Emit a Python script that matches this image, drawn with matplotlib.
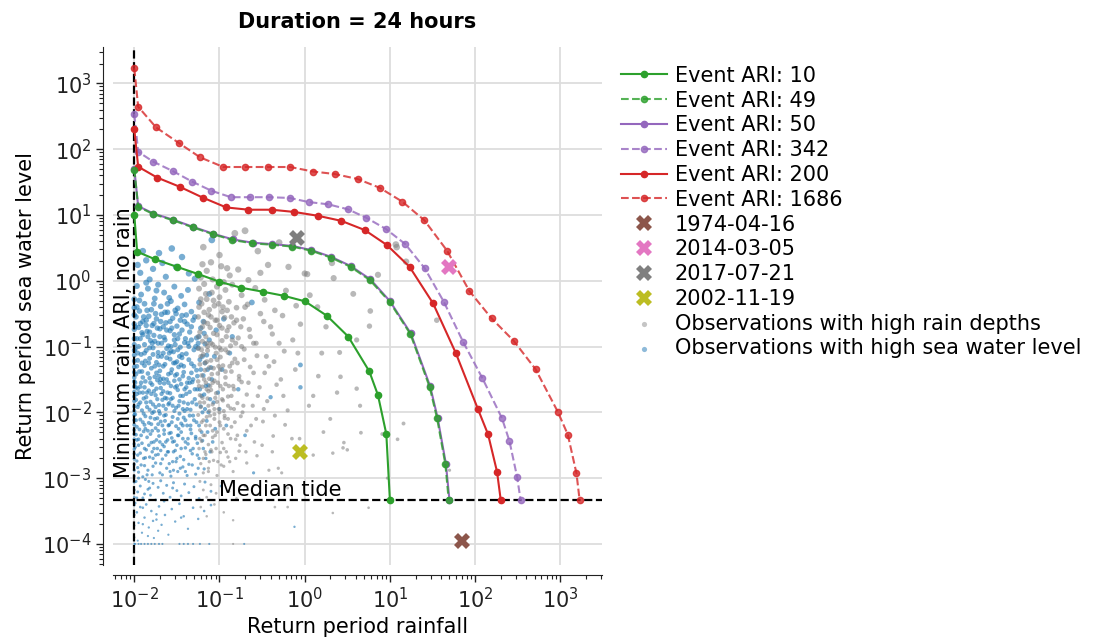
import numpy as np
import matplotlib.pyplot as plt
from matplotlib.ticker import LogLocator, NullFormatter

plt.rcParams['font.family'] = 'DejaVu Sans'
plt.rcParams['font.size'] = 15

median_tide = 4.65e-4
min_rain_ari = 0.01

# joint-probability curves: rain ARI (x) vs sea water level ARI (y)
ari10_rain = [0.01, 0.0108, 0.0175, 0.0315, 0.0565, 0.0998, 0.179, 0.323, 0.564, 1.01, 1.82, 3.24, 5.73, 7.24, 9.08, 10]
ari10_sea = [10, 2.76, 2.12, 1.63, 1.26, 0.966, 0.783, 0.681, 0.592, 0.486, 0.294, 0.142, 0.042, 0.0183, 0.00468, median_tide]

ari49_rain = [0.01, 0.0111, 0.0167, 0.0285, 0.0485, 0.0847, 0.142, 0.244, 0.412, 0.708, 1.19, 2.03, 3.45, 5.83, 9.91, 17.4, 29.3, 35.8, 44.8, 49]
ari49_sea = [49, 13.3, 10.3, 8.28, 6.48, 5.07, 4.16, 3.70, 3.52, 3.31, 2.86, 2.25, 1.63, 1.02, 0.480, 0.155, 0.0242, 0.00811, 0.00162, median_tide]

ari50_rain = [0.01, 0.0111, 0.0168, 0.0286, 0.0487, 0.085, 0.143, 0.246, 0.415, 0.712, 1.2, 2.05, 3.48, 5.9, 10.0, 17.6, 29.7, 36.3, 45.4, 50]
ari50_sea = [50, 13.6, 10.5, 8.45, 6.6, 5.17, 4.25, 3.78, 3.6, 3.38, 2.92, 2.3, 1.67, 1.05, 0.49, 0.158, 0.0248, 0.0083, 0.00166, median_tide]

ari342_rain = [0.01, 0.0111, 0.0167, 0.0282, 0.0479, 0.0804, 0.136, 0.229, 0.385, 0.670, 1.11, 1.89, 3.20, 5.28, 9.0, 15.2, 25.6, 42.8, 72.3, 122, 207, 253, 311, 342]
ari342_sea = [342, 91.2, 64.4, 46.5, 32.0, 23.3, 18.6, 18.6, 18.6, 18.1, 15.7, 14.5, 12.2, 9.07, 6.11, 3.59, 1.55, 0.483, 0.118, 0.0329, 0.00811, 0.00366, 0.00105, median_tide]

ari200_rain = [0.01, 0.0111, 0.0185, 0.0341, 0.0632, 0.120, 0.219, 0.409, 0.753, 1.44, 2.69, 5.07, 9.25, 17.0, 32.1, 59.4, 108, 142, 181, 200]
ari200_sea = [200, 54.1, 37.0, 26.8, 18.4, 13.0, 12.0, 12.0, 11.1, 9.69, 8.13, 5.89, 3.48, 1.63, 0.454, 0.0796, 0.0112, 0.00463, 0.00125, median_tide]

ari1686_rain = [0.01, 0.0111, 0.018, 0.0333, 0.0592, 0.111, 0.200, 0.372, 0.676, 1.25, 2.24, 4.17, 7.57, 14.0, 25.4, 46.9, 85.7, 156, 284, 512, 935, 1225, 1549, 1686]
ari1686_sea = [1686, 441, 214, 124, 75, 53.5, 53.5, 53.5, 53.5, 45.7, 41.9, 35.2, 25.9, 15.9, 8.29, 2.86, 0.697, 0.268, 0.122, 0.0453, 0.0102, 0.00459, 0.00118, median_tide]

# historical events
event_names = ['1974-04-16', '2014-03-05', '2017-07-21', '2002-11-19']
event_rain = [70.3, 49.0, 0.81, 0.885]
event_sea = [1.12e-4, 1.63, 4.4, 2.47e-3]
event_colors = ['tab:brown', 'tab:pink', 'tab:gray', 'tab:olive']

# observations, stored as (log10 rain ARI, log10 sea ARI)
obs_rain = [
    (-1.19, 0.51), (-1.0, 0.39), (-0.82, 0.72), (-0.7, 0.76), (-0.91, 0.19), (-0.43, 0.24), (-0.19, 0.21),
    (0.03, 0.1), (0.32, 0.27), (1.08, 0.51), (1.07, 0.55), (1.19, 0.29), (-0.55, 0.45), (-1.1, 0.28),
    (-0.3, 0.58), (0.86, 0.09),
    (-1.22, 0.05), (-1.15, 0.15), (-1.08, 0.02), (-0.98, 0.22), (-0.88, 0.08), (-0.78, 0.17), (-0.66, 0.01),
    (-0.52, 0.12), (0.0, 0.11), (0.34, 0.04), (-1.2, 0.25), (-0.95, -0.02),
    (-1.24, -0.12), (-1.21, -0.35), (-1.18, -0.05), (-1.15, -0.28), (-1.12, -0.44), (-1.09, -0.18),
    (-1.06, -0.38), (-1.03, -0.09), (-1.0, -0.25), (-0.97, -0.47), (-0.93, -0.14), (-0.89, -0.32),
    (-0.85, -0.06), (-0.8, -0.41), (-0.74, -0.22), (-0.67, -0.36), (-0.58, -0.11), (-0.47, -0.29),
    (-0.35, -0.45), (-0.22, -0.15), (0.06, -0.22), (0.57, -0.2), (0.77, -0.46), (-0.1, -0.38),
    (-1.25, -0.55), (-1.23, -0.78), (-1.2, -0.92), (-1.18, -0.63), (-1.16, -0.85), (-1.13, -0.52),
    (-1.11, -0.71), (-1.08, -0.97), (-1.05, -0.6), (-1.03, -0.82), (-1.0, -0.68), (-0.97, -0.91),
    (-0.94, -0.56), (-0.91, -0.76), (-0.87, -0.99), (-0.83, -0.64), (-0.78, -0.87), (-0.72, -0.58),
    (-0.65, -0.74), (-0.57, -0.95), (-0.48, -0.62), (-0.38, -0.81), (-0.26, -0.53), (-0.14, -0.9),
    (0.76, -0.69), (0.61, -0.9), (1.55, -0.6), (0.25, -0.7), (-0.05, -0.66),
    (-1.25, -1.03), (-1.23, -1.27), (-1.21, -1.44), (-1.19, -1.12), (-1.17, -1.36), (-1.14, -1.06),
    (-1.12, -1.49), (-1.1, -1.21), (-1.07, -1.33), (-1.05, -1.01), (-1.02, -1.41), (-0.99, -1.16),
    (-0.96, -1.29), (-0.93, -1.47), (-0.9, -1.09), (-0.86, -1.38), (-0.82, -1.19), (-0.77, -1.45),
    (-0.71, -1.04), (-0.64, -1.31), (-0.56, -1.14), (-0.47, -1.4), (-0.36, -1.23), (-0.24, -1.07),
    (0.2, -1.1), (0.41, -1.09), (0.16, -1.45), (0.42, -1.46), (-0.11, -1.35), (-1.15, -1.23), (-1.0, -1.02),
    (-1.25, -1.53), (-1.23, -1.74), (-1.22, -1.92), (-1.2, -1.61), (-1.18, -1.85), (-1.16, -1.55),
    (-1.14, -1.79), (-1.12, -1.98), (-1.1, -1.66), (-1.08, -1.88), (-1.06, -1.52), (-1.04, -1.71),
    (-1.01, -1.95), (-0.99, -1.6), (-0.96, -1.82), (-0.93, -1.57), (-0.9, -1.76), (-0.87, -1.94),
    (-0.83, -1.65), (-0.79, -1.86), (-0.74, -1.54), (-0.68, -1.73), (-0.61, -1.9), (-0.53, -1.62),
    (-0.44, -1.83), (-0.33, -1.58), (-0.2, -1.97), (0.61, -1.64), (0.65, -1.9), (0.1, -1.75),
    (-1.13, -1.68), (-1.03, -1.84), (-0.95, -1.98),
    (-1.25, -2.04), (-1.23, -2.27), (-1.21, -2.44), (-1.19, -2.12), (-1.17, -2.35), (-1.15, -2.07),
    (-1.13, -2.49), (-1.11, -2.2), (-1.08, -2.38), (-1.06, -2.03), (-1.03, -2.3), (-1.0, -2.15),
    (-0.97, -2.46), (-0.94, -2.09), (-0.9, -2.33), (-0.86, -2.22), (-0.81, -2.41), (-0.75, -2.06),
    (-0.68, -2.28), (-0.59, -2.45), (-0.49, -2.14), (-0.37, -2.36), (-0.23, -2.19), (1.16, -2.17),
    (0.66, -2.31), (0.91, -2.33), (0.46, -2.46), (-0.06, -2.4), (0.3, -2.1),
    (-1.24, -2.55), (-1.22, -2.78), (-1.19, -2.92), (-1.16, -2.64), (-1.13, -2.85), (-1.1, -2.57),
    (-1.07, -2.73), (-1.03, -2.96), (-0.99, -2.61), (-0.95, -2.82), (-0.9, -2.68), (-0.84, -2.9),
    (-0.77, -2.59), (-0.68, -2.77), (-0.56, -2.66), (-0.42, -2.88), (-0.27, -2.92), (-0.31, -2.85),
    (0.1, -2.65), (0.45, -2.54), (0.5, -2.57), (1.09, -2.41), (0.97, -3.0), (1.7, -2.88), (0.33, -2.62),
    (-1.23, -3.05), (-1.19, -3.18), (-1.15, -3.29), (-1.1, -3.1), (-1.04, -3.23), (-0.97, -3.07),
    (-0.89, -3.2), (-0.8, -3.31), (-0.7, -3.12), (-0.55, -3.25), (-0.45, -3.05), (-0.2, -3.15),
    (-1.22, -3.44), (-1.15, -3.58), (-1.06, -3.4), (-0.95, -3.52), (-0.84, -3.64), (-0.2, -3.44),
    (-0.35, -3.44), (0.33, -3.53), (0.75, -3.45), (-0.84, -4.0),
    (-1.24, -0.4), (-1.22, -1.15), (-1.21, -2.15), (-1.2, -0.7), (-1.18, -1.5), (-1.17, -2.6),
    (-1.16, -0.2), (-1.14, -1.0), (-1.13, -1.9), (-1.12, -2.75), (-1.1, -0.55), (-1.09, -1.42),
    (-1.08, -2.28), (-1.07, -0.8), (-1.05, -1.78), (-1.04, -2.55), (-1.03, -1.2), (-1.01, -0.35),
    (-1.0, -2.0), (-0.99, -1.35), (-0.98, -2.8), (-0.97, -0.72), (-0.96, -1.65), (-0.95, -2.25),
    (-0.93, -1.05), (-0.92, -2.6), (-0.91, -0.45), (-0.9, -1.9), (-0.88, -1.3), (-0.87, -2.4),
    (-0.85, -0.9), (-0.84, -1.6), (-0.82, -2.15), (-0.8, -0.6), (-0.79, -1.25), (-0.76, -2.5),
    (-0.74, -1.0), (-0.72, -1.9), (-0.7, -0.4), (-0.66, -1.55), (-0.63, -2.2), (-0.6, -0.95),
    (-0.55, -1.75), (-0.5, -2.5), (-0.45, -1.15), (-0.4, -0.7), (-0.35, -2.05), (-0.28, -1.5),
    (-1.23, -1.85), (-1.19, -2.35), (-1.15, -0.95), (-1.11, -1.6), (-1.06, -2.1), (-1.02, -1.55),
    (-0.94, -2.05), (-0.89, -0.7), (-0.86, -1.75), (-0.81, -2.7),
    (-1.25, -0.85), (-1.24, -1.6), (-1.23, -2.4), (-1.22, -0.28), (-1.21, -1.05), (-1.2, -1.78),
    (-1.19, -2.7), (-1.18, -0.48), (-1.17, -1.25), (-1.16, -2.2), (-1.15, -1.65), (-1.14, -0.65),
    (-1.13, -2.9), (-1.12, -1.32), (-1.11, -2.05), (-1.1, -0.95), (-1.09, -2.6), (-1.08, -1.55),
    (-1.07, -0.3), (-1.06, -1.95), (-1.05, -2.35), (-1.04, -1.1), (-1.03, -0.6), (-1.02, -2.75),
    (-1.01, -1.3), (-0.99, -2.2), (-0.98, -1.05), (-0.97, -1.8), (-0.96, -0.4), (-0.95, -2.55),
    (-0.93, -1.38), (-0.92, -0.85), (-0.9, -2.1), (-0.89, -1.6), (-0.88, -2.75), (-0.86, -0.55),
    (-0.85, -1.25), (-0.83, -1.95), (-0.81, -0.95), (-0.79, -2.35), (-0.77, -1.5), (-0.75, -0.7),
    (-0.73, -2.0), (-0.71, -1.2), (-0.69, -2.6), (-0.64, -0.85), (-0.6, -1.4), (-0.57, -2.1),
    (-0.52, -0.5), (-0.48, -1.95), (-0.42, -1.3), (-0.38, -2.6), (-0.3, -0.95), (-0.25, -1.75),
    (-0.15, -2.4), (-0.08, -1.1), (0.05, -1.9), (0.15, -0.4), (0.22, -2.3), (0.38, -1.7),
]

obs_sea = [
    (-2.0, -0.28), (-2.0, -0.41), (-2.0, -0.52), (-2.0, -0.66), (-2.0, -0.74), (-2.0, -0.88), (-2.0, -0.97),
    (-2.0, -1.06), (-2.0, -1.13), (-2.0, -1.22), (-2.0, -1.31), (-2.0, -1.39), (-2.0, -1.47), (-2.0, -1.53),
    (-2.0, -1.61), (-2.0, -1.69), (-2.0, -1.76), (-2.0, -1.83), (-2.0, -1.91), (-2.0, -1.98), (-2.0, -2.04),
    (-2.0, -2.12), (-2.0, -2.19), (-2.0, -2.27), (-2.0, -2.33), (-2.0, -2.41), (-2.0, -2.48), (-2.0, -2.56),
    (-2.0, -2.63), (-2.0, -2.71), (-2.0, -2.79), (-2.0, -2.88), (-2.0, -2.97), (-2.0, -3.06), (-2.0, -3.18),
    (-2.0, -3.29), (-2.0, -3.41), (-2.0, -3.56), (-2.0, -3.72), (-2.0, -3.9), (-2.0, -4.0),
    (-1.56, 0.49), (-1.44, 0.36), (-1.09, 0.62), (-1.86, 0.31), (-1.71, 0.42), (-1.93, 0.12), (-1.78, 0.18),
    (-1.63, 0.06), (-1.51, 0.21), (-1.36, 0.11), (-1.96, 0.24), (-1.82, 0.02), (-1.67, 0.27), (-1.29, 0.03),
    (-1.9, 0.45),
    (-1.97, -0.08), (-1.92, -0.21), (-1.88, -0.35), (-1.84, -0.12), (-1.8, -0.44), (-1.76, -0.27),
    (-1.72, -0.06), (-1.69, -0.39), (-1.65, -0.18), (-1.61, -0.48), (-1.57, -0.31), (-1.53, -0.09),
    (-1.49, -0.42), (-1.45, -0.23), (-1.41, -0.36), (-1.37, -0.14), (-1.33, -0.47), (-1.94, -0.46),
    (-1.86, -0.03), (-1.74, -0.15), (-1.59, -0.26), (-1.24, -0.33), (-1.12, -0.2),
    (-1.98, -0.55), (-1.95, -0.71), (-1.93, -0.88), (-1.9, -0.62), (-1.88, -0.97), (-1.85, -0.77),
    (-1.83, -0.54), (-1.81, -0.91), (-1.79, -0.68), (-1.77, -0.83), (-1.74, -0.58), (-1.72, -0.95),
    (-1.7, -0.73), (-1.68, -0.51), (-1.65, -0.86), (-1.63, -0.64), (-1.6, -0.99), (-1.58, -0.76),
    (-1.55, -0.57), (-1.53, -0.9), (-1.5, -0.69), (-1.47, -0.81), (-1.44, -0.53), (-1.41, -0.94),
    (-1.38, -0.66), (-1.35, -0.78), (-1.31, -0.6), (-1.27, -0.87), (-1.22, -0.72), (-1.17, -0.96),
    (-1.91, -0.79), (-1.86, -0.6), (-1.76, -0.92), (-1.66, -0.7), (-1.52, -0.97), (-0.62, -0.33),
    (-0.95, -0.58),
    (-1.99, -1.04), (-1.96, -1.21), (-1.94, -1.38), (-1.92, -1.12), (-1.9, -1.47), (-1.88, -1.29),
    (-1.86, -1.06), (-1.84, -1.41), (-1.82, -1.18), (-1.8, -1.33), (-1.78, -1.02), (-1.76, -1.46),
    (-1.74, -1.24), (-1.72, -1.09), (-1.7, -1.37), (-1.68, -1.15), (-1.66, -1.49), (-1.64, -1.27),
    (-1.62, -1.03), (-1.6, -1.42), (-1.58, -1.19), (-1.56, -1.35), (-1.54, -1.08), (-1.52, -1.44),
    (-1.5, -1.23), (-1.48, -1.31), (-1.46, -1.01), (-1.44, -1.17), (-1.42, -1.39), (-1.39, -1.11),
    (-1.36, -1.48), (-1.33, -1.26), (-1.3, -1.05), (-1.27, -1.36), (-1.23, -1.2), (-1.19, -1.44),
    (-1.15, -1.13), (-1.1, -1.32), (-0.05, -1.28), (-0.88, -1.1), (-1.97, -1.3), (-1.83, -1.25),
    (-1.71, -1.45), (-1.57, -1.07), (-1.45, -1.28), (-1.25, -1.02),
    (-1.99, -1.55), (-1.97, -1.72), (-1.95, -1.88), (-1.93, -1.61), (-1.91, -1.97), (-1.89, -1.79),
    (-1.87, -1.53), (-1.85, -1.92), (-1.83, -1.67), (-1.81, -1.84), (-1.79, -1.58), (-1.77, -1.99),
    (-1.75, -1.74), (-1.73, -1.51), (-1.71, -1.89), (-1.69, -1.63), (-1.67, -1.81), (-1.65, -1.56),
    (-1.63, -1.95), (-1.61, -1.7), (-1.59, -1.86), (-1.57, -1.6), (-1.55, -1.78), (-1.53, -1.52),
    (-1.51, -1.93), (-1.49, -1.66), (-1.47, -1.83), (-1.45, -1.57), (-1.43, -1.75), (-1.41, -1.98),
    (-1.39, -1.62), (-1.37, -1.87), (-1.35, -1.69), (-1.32, -1.54), (-1.29, -1.8), (-1.26, -1.65),
    (-1.22, -1.91), (-1.18, -1.73), (-1.13, -1.59), (-1.07, -1.85), (-0.4, -1.77), (-0.05, -1.62),
    (-1.98, -1.81), (-1.9, -1.7), (-1.82, -1.96), (-1.74, -1.64), (-1.66, -1.9), (-1.58, -1.71),
    (-1.5, -1.6), (-1.42, -1.85), (-1.34, -1.96), (-1.96, -1.64), (-1.86, -1.77), (-1.78, -1.88),
    (-1.7, -1.55), (-1.62, -1.79),
    (-1.99, -2.03), (-1.97, -2.22), (-1.95, -2.41), (-1.93, -2.11), (-1.91, -2.47), (-1.89, -2.29),
    (-1.87, -2.06), (-1.85, -2.38), (-1.83, -2.16), (-1.81, -2.33), (-1.79, -2.01), (-1.77, -2.45),
    (-1.75, -2.24), (-1.73, -2.09), (-1.71, -2.36), (-1.69, -2.14), (-1.67, -2.49), (-1.65, -2.27),
    (-1.63, -2.04), (-1.61, -2.42), (-1.59, -2.19), (-1.57, -2.31), (-1.55, -2.07), (-1.53, -2.44),
    (-1.51, -2.21), (-1.49, -2.35), (-1.47, -2.02), (-1.45, -2.17), (-1.43, -2.4), (-1.4, -2.12),
    (-1.37, -2.48), (-1.34, -2.26), (-1.31, -2.05), (-1.28, -2.37), (-1.24, -2.2), (-1.2, -2.43),
    (-1.15, -2.13), (-1.98, -2.34), (-1.88, -2.19), (-1.8, -2.46), (-1.72, -2.28), (-1.64, -2.13),
    (-1.56, -2.39), (-1.48, -2.25), (-1.42, -2.08), (-1.33, -2.32), (-1.26, -2.47), (-1.94, -2.26),
    (-1.99, -2.53), (-1.97, -2.74), (-1.95, -2.91), (-1.93, -2.62), (-1.9, -2.98), (-1.88, -2.81),
    (-1.86, -2.57), (-1.84, -2.88), (-1.82, -2.68), (-1.79, -2.95), (-1.77, -2.55), (-1.75, -2.77),
    (-1.72, -2.64), (-1.7, -2.92), (-1.67, -2.71), (-1.65, -2.52), (-1.62, -2.85), (-1.6, -2.6),
    (-1.57, -2.97), (-1.55, -2.75), (-1.52, -2.58), (-1.49, -2.9), (-1.46, -2.67), (-1.43, -2.83),
    (-1.4, -2.54), (-1.36, -2.79), (-1.32, -2.63), (-1.28, -2.94), (-1.24, -2.7), (-1.18, -2.86),
    (-0.6, -2.92), (-1.96, -2.84), (-1.87, -2.69), (-1.78, -2.82), (-1.69, -2.58), (-1.59, -2.78),
    (-1.5, -2.7), (-1.38, -2.96), (-1.11, -2.6),
    (-1.98, -3.05), (-1.96, -3.21), (-1.93, -3.12), (-1.9, -3.3), (-1.87, -3.02), (-1.84, -3.17),
    (-1.81, -3.26), (-1.78, -3.08), (-1.75, -3.33), (-1.72, -3.14), (-1.69, -3.04), (-1.66, -3.23),
    (-1.62, -3.11), (-1.58, -3.29), (-1.54, -3.07), (-1.5, -3.19), (-1.45, -3.27), (-1.41, -3.09),
    (-1.36, -3.22), (-1.3, -3.13), (-1.24, -3.31), (-1.17, -3.06), (-1.1, -3.2), (-0.98, -3.12),
    (-1.88, -3.24),
    (-1.99, -3.38), (-1.97, -3.52), (-1.95, -3.68), (-1.93, -3.44), (-1.91, -3.83), (-1.88, -3.6),
    (-1.86, -3.4), (-1.83, -3.75), (-1.8, -3.5), (-1.77, -3.91), (-1.74, -3.63), (-1.71, -3.43),
    (-1.68, -3.71), (-1.64, -3.56), (-1.6, -3.86), (-1.56, -3.47), (-1.52, -3.66), (-1.47, -3.39),
    (-1.42, -3.58), (-1.37, -3.77), (-1.31, -3.45), (-1.25, -3.62), (-1.18, -3.5), (-1.1, -3.41),
    (-0.12, -3.74), (-1.96, -3.95), (-1.9, -3.7), (-1.84, -3.88), (-1.78, -3.65), (-1.72, -3.8),
    (-1.99, -4.0), (-1.95, -4.0), (-1.92, -4.0), (-1.88, -4.0), (-1.84, -4.0), (-1.8, -4.0), (-1.76, -4.0),
    (-1.71, -4.0), (-1.67, -4.0), (-1.47, -4.0), (-1.42, -4.0), (-1.37, -4.0), (-1.31, -4.0), (-1.23, -4.0),
    (-1.12, -4.0), (-0.71, -4.0),
    (-1.97, -0.4), (-1.95, -1.0), (-1.94, -1.7), (-1.92, -2.35), (-1.96, -2.65), (-1.91, -1.25),
    (-1.89, -0.55), (-1.88, -1.62), (-1.87, -2.25), (-1.85, -2.95), (-1.84, -0.85), (-1.82, -1.48),
    (-1.81, -2.08), (-1.79, -2.6), (-1.78, -1.12), (-1.77, -0.35), (-1.75, -1.92), (-1.74, -2.42),
    (-1.73, -0.72), (-1.71, -1.28), (-1.7, -2.02), (-1.69, -2.78), (-1.68, -0.95), (-1.66, -1.68),
    (-1.65, -2.33), (-1.64, -0.48), (-1.62, -1.17), (-1.61, -2.6), (-1.6, -1.88), (-1.58, -0.62),
    (-1.57, -1.4), (-1.56, -2.15), (-1.54, -2.88), (-1.53, -0.82), (-1.52, -1.62), (-1.5, -2.5),
    (-1.49, -1.05), (-1.48, -1.9), (-1.46, -0.6), (-1.45, -2.3), (-1.43, -1.45), (-1.42, -2.72),
    (-1.4, -0.88), (-1.39, -1.72), (-1.38, -2.2), (-1.36, -1.2), (-1.34, -2.58), (-1.33, -0.7),
    (-1.31, -1.5), (-1.3, -2.12), (-1.28, -1.0), (-1.27, -1.88), (-1.26, -2.65), (-1.22, -1.35),
    (-1.2, -2.0), (-1.18, -0.8), (-1.16, -1.6), (-1.14, -2.3), (-1.98, -1.42), (-1.98, -2.12),
    (-1.97, -0.88), (-1.96, -1.92), (-1.95, -2.5), (-1.93, -0.65), (-1.92, -1.55), (-1.9, -2.15),
    (-1.89, -2.7), (-1.88, -1.1), (-1.86, -1.85), (-1.85, -0.45), (-1.83, -2.5), (-1.82, -1.02),
    (-1.8, -1.72), (-1.79, -2.28), (-1.77, -0.65), (-1.76, -1.3), (-1.75, -2.65), (-1.73, -1.8),
    (-1.72, -2.18), (-1.7, -0.85), (-1.69, -1.5), (-1.67, -2.2), (-1.66, -1.1), (-1.64, -1.78),
    (-1.63, -2.45), (-1.62, -0.75), (-1.6, -1.55), (-1.59, -2.32), (-1.57, -1.0), (-1.55, -1.9),
    (-1.54, -2.6), (-1.52, -1.25), (-1.51, -0.5), (-1.49, -2.1), (-1.47, -1.5), (-1.46, -2.85),
    (-1.44, -1.12), (-1.43, -1.95), (-1.41, -0.62), (-1.4, -2.45), (-1.38, -1.55), (-1.37, -0.95),
    (-1.35, -2.05), (-1.33, -1.4), (-1.32, -2.8), (-1.29, -1.65), (-1.28, -2.4), (-1.25, -0.95),
    (-1.21, -1.75), (-1.19, -2.55), (-1.17, -1.25), (-1.13, -2.0), (-1.09, -1.5), (-1.05, -2.25),
    (-1.02, -1.7),
    (-1.99, -0.7), (-1.98, -1.62), (-1.97, -2.42), (-1.96, -1.1), (-1.95, -3.0), (-1.94, -0.3),
    (-1.93, -1.85), (-1.92, -2.8), (-1.91, -1.38), (-1.9, -0.82), (-1.89, -2.02), (-1.88, -2.55),
    (-1.87, -1.22), (-1.86, -0.68), (-1.85, -1.7), (-1.84, -2.28), (-1.83, -3.05), (-1.82, -0.78),
    (-1.81, -1.55), (-1.8, -2.18), (-1.79, -0.95), (-1.78, -2.7), (-1.77, -1.68), (-1.76, -2.1),
    (-1.75, -0.5), (-1.74, -1.4), (-1.73, -2.55), (-1.72, -1.15), (-1.71, -1.98), (-1.7, -2.45),
    (-1.69, -0.62), (-1.68, -1.72), (-1.67, -2.95), (-1.66, -1.3), (-1.65, -2.05), (-1.64, -0.9),
    (-1.63, -2.65), (-1.62, -1.5), (-1.61, -0.35), (-1.6, -2.2), (-1.59, -1.1), (-1.58, -2.9),
    (-1.57, -1.8), (-1.56, -0.72), (-1.55, -2.45), (-1.54, -1.25), (-1.53, -1.98), (-1.52, -0.45),
    (-1.51, -2.75), (-1.5, -1.42), (-1.49, -0.88), (-1.48, -2.35), (-1.47, -1.15), (-1.46, -1.75),
    (-1.45, -2.55), (-1.44, -0.75), (-1.43, -2.2), (-1.42, -1.3), (-1.41, -1.65), (-1.4, -2.9),
    (-1.39, -0.52), (-1.38, -1.95), (-1.37, -2.4), (-1.36, -1.0), (-1.35, -1.55), (-1.34, -2.2),
    (-1.33, -0.9), (-1.32, -1.85), (-1.31, -2.55), (-1.3, -1.3), (-1.29, -0.55), (-1.27, -2.15),
    (-1.26, -1.45), (-1.25, -2.85), (-1.24, -0.85), (-1.23, -1.65), (-1.21, -2.3), (-1.2, -1.15),
    (-1.19, -0.62), (-1.17, -1.95), (-1.16, -2.7), (-1.14, -1.35), (-1.12, -0.9), (-1.11, -1.8),
    (-1.08, -2.45), (-1.06, -1.15), (-1.04, -0.75), (-1.0, -1.95), (-0.97, -1.35), (-0.92, -2.2),
    (-0.85, -0.85), (-0.78, -1.65), (-0.7, -2.35), (-1.97, -3.3), (-1.9, -3.45), (-1.82, -3.15),
    (-1.74, -3.55), (-1.65, -3.35), (-1.55, -3.15), (-1.45, -3.6),
]


def to_values(pairs):
    arr = np.array(pairs)
    return 10 ** arr[:, 0], 10 ** arr[:, 1]


def dot_sizes(sea):
    # smaller dots for lower sea water levels
    d_px = np.clip(2.6 + 1.0 * (np.log10(sea) + 3.5), 2.0, None)
    return (d_px * 0.72) ** 2


fig = plt.figure(figsize=(10.96, 6.44), dpi=100)
ax = fig.add_axes([0.1031, 0.1227, 0.4462, 0.8043])

rx, ry = to_values(obs_rain)
sx, sy = to_values(obs_sea)
ax.scatter(sx, sy, s=dot_sizes(sy), color='tab:blue', alpha=0.6, linewidths=0, zorder=1)
ax.scatter(rx, ry, s=dot_sizes(ry), color='tab:gray', alpha=0.55, linewidths=0, zorder=1)
h_rain = ax.scatter([], [], s=14, color='tab:gray', alpha=0.45, linewidths=0)
h_sea = ax.scatter([], [], s=14, color='tab:blue', alpha=0.5, linewidths=0)

ax.axvline(min_rain_ari, color='k', ls='--', lw=1.6, zorder=2)
ax.axhline(median_tide, color='k', ls='--', lw=1.6, zorder=2)
ax.text(min_rain_ari, 1e-3, 'Minimum rain ARI, no rain', rotation=90, ha='right', va='bottom')
ax.text(0.1, median_tide, 'Median tide', ha='left', va='bottom')

kw = dict(marker='o', ms=4.5, lw=1.5)
h10, = ax.plot(ari10_rain, ari10_sea, color='tab:green', ls='-', zorder=3, **kw)
h50, = ax.plot(ari50_rain, ari50_sea, color='tab:purple', ls='-', zorder=3, **kw)
h49, = ax.plot(ari49_rain, ari49_sea, color='tab:green', ls='--', alpha=0.8, zorder=3.1, **kw)
h342, = ax.plot(ari342_rain, ari342_sea, color='tab:purple', ls='--', alpha=0.8, zorder=3, **kw)
h200, = ax.plot(ari200_rain, ari200_sea, color='tab:red', ls='-', zorder=3, **kw)
h1686, = ax.plot(ari1686_rain, ari1686_sea, color='tab:red', ls='--', alpha=0.8, zorder=3, **kw)

event_handles = []
for name, x, y, c in zip(event_names, event_rain, event_sea, event_colors):
    h, = ax.plot([x], [y], marker='X', ms=12, ls='none', color=c, mew=0, zorder=4)
    event_handles.append(h)

ax.set_xscale('log')
ax.set_yscale('log')
ax.set_xlim(10 ** -2.25, 10 ** 3.49)
ax.set_ylim(10 ** -4.32, 10 ** 3.552)

for axis in (ax.xaxis, ax.yaxis):
    axis.set_major_locator(LogLocator(base=10, numticks=20))
    axis.set_minor_locator(LogLocator(base=10, subs=np.arange(2, 10), numticks=20))
    axis.set_minor_formatter(NullFormatter())

ax.grid(True, which='major', color='#dddddd', lw=1.3)
ax.set_axisbelow(True)
for side in ('top', 'right'):
    ax.spines[side].set_visible(False)
for side in ('left', 'bottom'):
    ax.spines[side].set_position(('outward', 7))
    ax.spines[side].set_color('#222222')
ax.tick_params(which='major', length=5, width=1, colors='#222222')
ax.tick_params(which='minor', length=3, width=0.8, colors='#222222')

ax.set_title('Duration = 24 hours', fontweight='bold', fontsize=15, pad=14)
ax.set_xlabel('Return period rainfall')
ax.set_ylabel('Return period sea water level')

handles = [h10, h49, h50, h342, h200, h1686] + event_handles + [h_rain, h_sea]
labels = ['Event ARI: 10', 'Event ARI: 49', 'Event ARI: 50', 'Event ARI: 342',
          'Event ARI: 200', 'Event ARI: 1686'] + event_names + \
         ['Observations with high rain depths', 'Observations with high sea water level']
ax.legend(handles, labels, loc='upper left', bbox_to_anchor=(1.0, 1.0), frameon=False,
          labelspacing=0.23, handletextpad=0.4, handlelength=2.2)

fig.savefig('out.png', dpi=100)
